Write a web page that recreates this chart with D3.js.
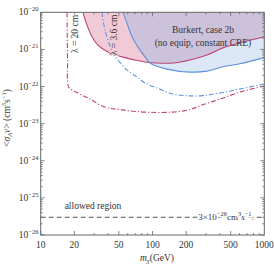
<!DOCTYPE html>
<html>
<head>
<meta charset="utf-8">
<script src="https://cdn.jsdelivr.net/npm/d3@7"></script>
<style>
  body { margin: 0; background: #fff; }
  svg text { font-family: "Liberation Serif", "Times New Roman", "DejaVu Serif", serif; }
</style>
</head>
<body>
<svg id="stage" width="274" height="268"></svg>
<script>
// Data: [mass (GeV), <sigma v> (cm^3 s^-1)]
const massTicks = [10, 20, 50, 100, 200, 500, 1000];
const sigmaExps = [-26, -25, -24, -23, -22, -21, -20];

// lambda = 20 cm, solid (shaded)
const redSolid = [
  [23.9, 1e-20], [25.9, 4.6e-21], [28.8, 2.2e-21], [32.5, 1.3e-21], [40, 8.5e-22],
  [53.3, 6.3e-22], [69.7, 5.2e-22], [85.7, 4.6e-22], [110, 4.3e-22], [152, 4.3e-22],
  [216, 5.2e-22], [307, 7.1e-22], [427, 1.1e-21], [605, 1.5e-21], [1000, 2.2e-21]
];
// lambda = 3.6 cm, solid (shaded)
const blueSolid = [
  [54.5, 1e-20], [59.1, 5.1e-21], [65.6, 2.2e-21], [77.3, 9.6e-22], [85.7, 6.3e-22],
  [94.9, 4.3e-22], [135, 2.95e-22], [216, 2.45e-22], [307, 2.6e-22], [427, 3.4e-22],
  [605, 4.1e-22], [1000, 6.0e-22]
];
// lambda = 20 cm, dot-dashed
const redDash = [
  [17.2, 1e-20], [17.4, 5.2e-22], [17.7, 1.0e-22], [19.1, 8.1e-23], [26.5, 4.9e-23],
  [37.6, 2.8e-23], [53.3, 2.35e-23], [85.7, 2.05e-23], [152, 2.05e-23], [216, 2.4e-23],
  [266, 3.05e-23], [402, 4.6e-23], [605, 7.1e-23], [1000, 1.03e-22]
];
// lambda = 3.6 cm, dot-dashed
const blueDash = [
  [35.3, 1e-20], [37.6, 3.3e-21], [44.3, 8e-22], [49.1, 5.2e-22], [59.1, 2.8e-22],
  [72.6, 1.8e-22], [85.7, 1.25e-22], [110, 9.1e-23], [152, 6.3e-23], [216, 5.6e-23],
  [280, 5.7e-23], [402, 6.7e-23], [605, 8.6e-23], [1000, 1.17e-22]
];
const thermal = 3e-26;

const red = "#bd4470", blue = "#5f93d8";
const margin = { left: 40.7, top: 12.3, right: 274 - 264.3, bottom: 268 - 235 };
const width = 274, height = 268;

const svg = d3.select("#stage");
const x = d3.scaleLog().domain([10, 1000]).range([margin.left, width - margin.right]);
const y = d3.scaleLog().domain([1e-26, 1e-20]).range([height - margin.bottom, margin.top]);

const defs = svg.append("defs");
defs.append("clipPath").attr("id", "plot")
  .append("rect")
  .attr("x", x(10)).attr("y", y(1e-20))
  .attr("width", x(1000) - x(10)).attr("height", y(1e-26) - y(1e-20));

const line = d3.line().x((d) => x(d[0])).y((d) => y(d[1])).curve(d3.curveCatmullRom.alpha(0.5));
const areaPath = (pts) => line(pts) + `L${x(1000)},${y(1e-20)}L${x(pts[0][0])},${y(1e-20)}Z`;

defs.append("clipPath").attr("id", "blueArea").append("path").attr("d", areaPath(blueSolid));

const g = svg.append("g").attr("clip-path", "url(#plot)");

// shaded regions
g.append("path").attr("d", areaPath(redSolid)).attr("fill", "#f0cbd7");
g.append("path").attr("d", areaPath(blueSolid)).attr("fill", "#dbe6f6");
g.append("g").attr("clip-path", "url(#blueArea)")
  .append("path").attr("d", areaPath(redSolid)).attr("fill", "#cdc2db");

// boundary curves
g.append("path").attr("d", line(redSolid)).attr("fill", "none").attr("stroke", red).attr("stroke-width", 1.1);
g.append("path").attr("d", line(blueSolid)).attr("fill", "none").attr("stroke", blue).attr("stroke-width", 1.1);
g.append("path").attr("d", line(redDash)).attr("fill", "none").attr("stroke", red)
  .attr("stroke-width", 1.1).attr("stroke-dasharray", "5,2,1.2,2");
g.append("path").attr("d", line(blueDash)).attr("fill", "none").attr("stroke", blue)
  .attr("stroke-width", 1.1).attr("stroke-dasharray", "5,2,1.2,2");

// thermal cross section
g.append("line")
  .attr("x1", x(10)).attr("x2", x(1000)).attr("y1", y(thermal)).attr("y2", y(thermal))
  .attr("stroke", "#555").attr("stroke-width", 1.1).attr("stroke-dasharray", "5,3");

// frame and ticks
const frame = "#666";
svg.append("rect")
  .attr("x", x(10)).attr("y", y(1e-20))
  .attr("width", x(1000) - x(10)).attr("height", y(1e-26) - y(1e-20))
  .attr("fill", "none").attr("stroke", frame).attr("stroke-width", 1);

const xMinor = [];
for (let d = 10; d < 1000; d *= 10) for (let k = 1; k < 10; k++) xMinor.push(k * d);
const tickG = svg.append("g").attr("stroke", frame).attr("stroke-width", 0.8);
xMinor.forEach((m) => {
  const len = massTicks.includes(m) ? 4 : 2;
  tickG.append("line").attr("x1", x(m)).attr("x2", x(m)).attr("y1", y(1e-26)).attr("y2", y(1e-26) - len);
  tickG.append("line").attr("x1", x(m)).attr("x2", x(m)).attr("y1", y(1e-20)).attr("y2", y(1e-20) + len);
});
sigmaExps.slice(0, -1).forEach((e) => {
  for (let k = 1; k < 10; k++) {
    const v = k * Math.pow(10, e);
    const len = k === 1 ? 4 : 2;
    tickG.append("line").attr("x1", x(10)).attr("x2", x(10) + len).attr("y1", y(v)).attr("y2", y(v));
    tickG.append("line").attr("x1", x(1000)).attr("x2", x(1000) - len).attr("y1", y(v)).attr("y2", y(v));
  }
});

const txt = "#333";
// x tick labels
svg.append("g").selectAll("text").data(massTicks).join("text")
  .attr("x", (d) => x(d)).attr("y", 247.5)
  .attr("text-anchor", "middle").attr("font-size", 9.5).attr("fill", txt)
  .text((d) => d);

// y tick labels 10^n
const yl = svg.append("g").selectAll("text").data(sigmaExps).join("text")
  .attr("x", 38.5).attr("y", (d) => y(Math.pow(10, d)) + 3)
  .attr("text-anchor", "end").attr("font-size", 9.5).attr("fill", txt);
yl.append("tspan").text("10");
yl.append("tspan").attr("dy", -4).attr("font-size", 6.5).text((d) => "\u2212" + -d);

// axis titles
const xt = svg.append("text").attr("x", 157).attr("y", 261).attr("text-anchor", "middle")
  .attr("font-size", 9.5).attr("fill", txt);
xt.append("tspan").attr("font-style", "italic").text("m");
xt.append("tspan").attr("font-style", "italic").attr("font-size", 6.5).attr("dy", 2).text("\u03c7");
xt.append("tspan").attr("dy", -2).text("(GeV)");

const yt = svg.append("text").attr("transform", "translate(10,118) rotate(-90)")
  .attr("text-anchor", "middle").attr("font-size", 9.5).attr("fill", txt);
yt.append("tspan").text("<");
yt.append("tspan").attr("font-style", "italic").text("\u03c3");
yt.append("tspan").attr("font-style", "italic").attr("font-size", 6.5).attr("dy", 2).text("A");
yt.append("tspan").attr("font-style", "italic").attr("dy", -2).text("v");
yt.append("tspan").text("> (cm");
yt.append("tspan").attr("font-size", 6.5).attr("dy", -4).text("3");
yt.append("tspan").attr("dy", 4).text("s");
yt.append("tspan").attr("font-size", 6.5).attr("dy", -4).text("\u22121");
yt.append("tspan").attr("dy", 4).text(")");

// annotations
svg.append("text").attr("x", 203).attr("y", 33).attr("text-anchor", "middle")
  .attr("font-size", 9.5).attr("fill", txt).text("Burkert, case 2b");
svg.append("text").attr("x", 203).attr("y", 46).attr("text-anchor", "middle")
  .attr("font-size", 9.5).attr("fill", txt).text("(no equip, constant CRE)");
svg.append("text").attr("x", 93).attr("y", 209).attr("text-anchor", "middle")
  .attr("font-size", 9.5).attr("fill", txt).text("allowed region");

const lam = (cx, cy, label, bg) => {
  svg.append("text").attr("transform", `translate(${cx},${cy}) rotate(-90)`)
    .attr("text-anchor", "middle").attr("font-size", 9.5).attr("fill", txt)
    .attr("paint-order", "stroke").attr("stroke", bg).attr("stroke-width", 2)
    .text(label);
};
lam(78, 34, "\u03bb = 20 cm", "#fff");
lam(117, 35, "\u03bb = 3.6 cm", "#f0cbd7");

const th = svg.append("text").attr("x", 226).attr("y", y(thermal) + 3)
  .attr("text-anchor", "middle").attr("font-size", 9).attr("fill", txt)
  .attr("paint-order", "stroke").attr("stroke", "#fff").attr("stroke-width", 3);
th.append("tspan").text("3\u00d710");
th.append("tspan").attr("font-size", 6.5).attr("dy", -4).text("\u221226");
th.append("tspan").attr("dy", 4).text("cm");
th.append("tspan").attr("font-size", 6.5).attr("dy", -4).text("3");
th.append("tspan").attr("dy", 4).attr("font-style", "italic").text("s");
th.append("tspan").attr("font-size", 6.5).attr("dy", -4).text("\u22121");
th.append("tspan").attr("dy", 4).text(".");
</script>
</body>
</html>
